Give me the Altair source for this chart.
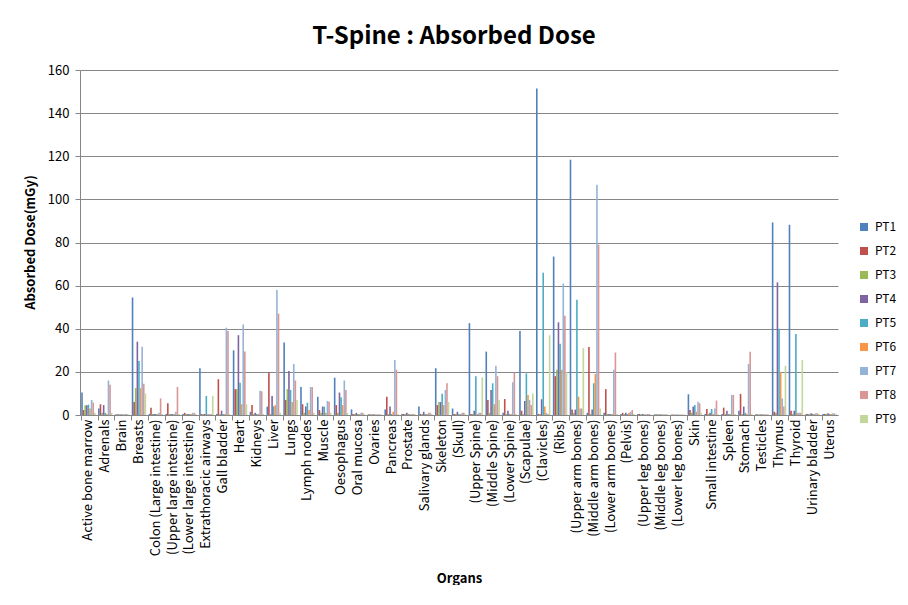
import altair as alt
import pandas as pd

organs = ["Active bone marrow", "Adrenals", "Brain", "Breasts", "Colon (Large intestine)",
          "(Upper large intestine)", "(Lower large intestine)", "Extrathoracic airways",
          "Gall bladder", "Heart", "Kidneys", "Liver", "Lungs", "Lymph nodes", "Muscle",
          "Oesophagus", "Oral mucosa", "Ovaries", "Pancreas", "Prostate", "Salivary glands",
          "Skeleton", "(Skull)", "(Upper Spine)", "(Middle Spine)", "(Lower Spine)",
          "(Scapulae)", "(Clavicles)", "(Ribs)", "(Upper arm bones)", "(Middle arm bones)",
          "(Lower arm bones)", "(Pelvis)", "(Upper leg bones)", "(Middle leg bones)",
          "(Lower leg bones)", "Skin", "Small intestine", "Spleen", "Stomach", "Testicles",
          "Thymus", "Thyroid", "Urinary bladder", "Uterus"]

series = ["PT1", "PT2", "PT3", "PT4", "PT5", "PT6", "PT7", "PT8", "PT9"]

pt1 = [10.4, 3, 0.3, 54.5, 0.5, 0.5, 0.5, 21.7, 0.5, 30, 1.5, 3.9, 33.6, 13, 8.5, 17.3, 2.6, 0.3,
       2.6, 0.5, 3.9, 21.7, 3, 42.6, 29.4, 1, 39, 151.4, 73.5, 118.4, 1, 1, 0.5, 0.5, 0.3, 0.2,
       9.6, 0.5, 0.5, 2, 0.3, 89.3, 88.2, 0.5, 0.5]
pt2 = [2.3, 5, 0.3, 6, 3.4, 5.4, 1, 0.5, 16.6, 12, 4.6, 19.7, 7, 5, 2.3, 4.6, 0.5, 0.3,
       8.5, 0.5, 0.5, 4.6, 0.5, 0.5, 7, 7.4, 2, 0.5, 18, 2.5, 31.5, 12, 1, 0.5, 0.3, 0.2,
       2.3, 2.8, 3.4, 9.8, 0.3, 1.5, 2, 0.5, 0.5]
pt3 = [4.5, 1, 0.5, 12.5, 0.5, 0.5, 0.5, 0.5, 0.5, 12, 0.5, 0.5, 12, 1, 1, 1, 0.5, 0.3,
       0.5, 0.5, 0.5, 6, 0.5, 0.5, 1, 0.5, 0.5, 0.5, 21, 1, 0.5, 0.5, 0.5, 0.3, 0.3, 0.2,
       1, 0.5, 0.5, 0.5, 0.3, 1, 0.5, 0.5, 0.5]
pt4 = [4.5, 4.6, 0.3, 34, 0.5, 0.5, 0.5, 0.5, 2, 37, 1, 8.8, 20.4, 4, 3.9, 10.4, 1, 0.3,
       4, 1, 1.5, 6, 1.5, 2, 11.6, 2, 6.5, 7.3, 43, 2.5, 2.6, 0.5, 1, 0.5, 0.3, 0.2,
       3.9, 1, 2, 3.9, 0.3, 61.5, 2, 0.8, 0.8]
pt5 = [4.8, 1, 0.3, 25, 0.5, 0.5, 0.5, 8.8, 0.5, 15, 0.5, 4, 11.6, 5.7, 3.9, 8.2, 0.5, 0.3,
       0.5, 0.5, 0.5, 9.8, 0.5, 18, 14.7, 0.5, 19.3, 66, 33, 53.4, 14.7, 0.5, 0.5, 0.3, 0.3, 0.2,
       4.6, 2.8, 0.5, 1, 0.3, 40, 37.6, 0.5, 0.5]
pt6 = [3, 0.5, 0.3, 12.5, 0.5, 0.5, 0.5, 0.5, 0.5, 5, 0.5, 4.6, 6, 2.3, 1, 4.6, 0.5, 0.3,
       1.5, 0.5, 0.5, 4.6, 0.5, 0.5, 5, 0.5, 9.3, 3.9, 21, 8.5, 19, 0.5, 1, 0.3, 0.3, 0.2,
       1.5, 0.5, 0.5, 0.5, 0.3, 20, 1, 0.5, 0.5]
pt7 = [7, 16, 0.5, 31.7, 1, 1.5, 1, 0.5, 40.5, 42, 11.3, 58, 23.7, 13, 6.5, 16, 1, 0.3,
       25.5, 0.5, 1, 11.6, 1, 1, 22.8, 15.2, 7, 1, 61, 3, 106.8, 21, 1.5, 0.5, 0.3, 0.2,
       6.2, 3, 9.3, 23.7, 0.3, 7.7, 1, 0.8, 0.8]
pt8 = [5.8, 14, 0.5, 14.5, 7.7, 13, 1, 0.5, 39, 29.5, 11, 47, 16, 13, 6.2, 11.6, 1, 0.3,
       21, 0.5, 1, 14.7, 1, 1, 18, 19.7, 4.6, 0.5, 46, 3, 79, 29, 2.3, 0.5, 0.3, 0.2,
       5.4, 6.7, 9.3, 29.3, 0.3, 4, 1, 0.8, 0.8]
pt9 = [1, 1, 0.3, 10, 0.5, 0.5, 0.5, 8.8, 0.5, 5, 0.5, 1, 7, 1, 1, 1, 0.5, 0.3,
       0.5, 0.5, 0.5, 6, 0.5, 17.5, 7, 0.5, 10, 37, 20, 31, 3, 0.5, 0.5, 0.3, 0.3, 0.2,
       1, 0.5, 0.5, 0.5, 0.3, 22.8, 25.5, 0.5, 0.5]

colors = ["#4F81BD", "#C0504D", "#9BBB59", "#8064A2", "#4BACC6",
          "#F79646", "#95B3D7", "#D99694", "#C3D69B"]

title_text = ["T-Spine : Absorbed Dose"]

rows = []
for name, vals in zip(series, [pt1, pt2, pt3, pt4, pt5, pt6, pt7, pt8, pt9]):
    for org, v in zip(organs, vals):
        rows.append({"Organ": org, "Series": name, "Dose": v})
df = pd.DataFrame(rows)

FONT = "Noto Sans CJK KR"

xscale = alt.Scale(domain=organs, paddingInner=0.143, paddingOuter=0.0714)

yaxis = alt.Axis(title="Absorbed Dose(mGy)", values=[0, 20, 40, 60, 80, 100, 120, 140, 160],
                 grid=True, gridColor="#868686", gridWidth=1, tickColor="#868686",
                 tickSize=5, domainColor="#868686", labelFontSize=13,
                 labelColor="#000000", labelPadding=6, labelFont=FONT,
                 titleFont=FONT, titleFontSize=13, titleFontWeight="bold",
                 titleColor="#000000", titleX=-50, titleY=172, titleAngle=270,
                 titleAlign="center", titleBaseline="middle")
yenc = alt.Y("Dose:Q", scale=alt.Scale(domain=[0, 160]), axis=yaxis)

bars = alt.Chart(df).mark_bar().encode(
    x=alt.X("Organ:N", sort=organs, scale=xscale,
            axis=alt.Axis(title="Organs", orient="bottom", labelAngle=270, labelAlign="right",
                          labelBaseline="middle", labelFontSize=13, labelColor="#000000",
                          labelPadding=4, ticks=False, domainColor="#868686",
                          titleFontSize=13, titleFontWeight="bold", titleColor="#000000",
                          titleX=379, titleY=163, titleAlign="center", titleBaseline="middle",
                          labelFont=FONT, titleFont=FONT, labelOverlap=False)),
    xOffset=alt.XOffset("Series:N", sort=series,
                        scale=alt.Scale(paddingInner=0, paddingOuter=0)),
    y=yenc,
    color=alt.Color("Series:N", sort=series, scale=alt.Scale(domain=series, range=colors),
                    legend=alt.Legend(title=None, orient="none", legendX=778, legendY=151,
                                      symbolType="square", symbolSize=64, symbolStrokeWidth=0,
                                      labelFontSize=12, labelFont=FONT, labelColor="#000000",
                                      rowPadding=12, labelOffset=5)),
)

ticks = alt.Chart(df).mark_bar(opacity=0).encode(
    x=alt.X("Organ:N", sort=organs, scale=xscale,
            axis=alt.Axis(title=None, orient="bottom", labels=False, ticks=True, tickSize=5,
                          tickColor="#868686", bandPosition=0, domain=False, grid=False)),
    y=yenc,
)

title = alt.Chart(pd.DataFrame({"t": title_text})).mark_text(
    font=FONT, fontSize=24, fontWeight="bold", color="#000000",
    align="center", baseline="alphabetic"
).encode(text="t:N", x=alt.value(374), y=alt.value(-26))

chart = alt.layer(bars, ticks, title).resolve_axis(x="independent").properties(
    width=758, height=345,
    autosize=alt.AutoSizeParams(type="none"),
    padding={"left": 72, "top": 62, "right": 62, "bottom": 170},
).configure_view(stroke=None).configure_axis(labelFont=FONT)

chart.save("out.html", embed_options={"renderer": "svg", "actions": False})
